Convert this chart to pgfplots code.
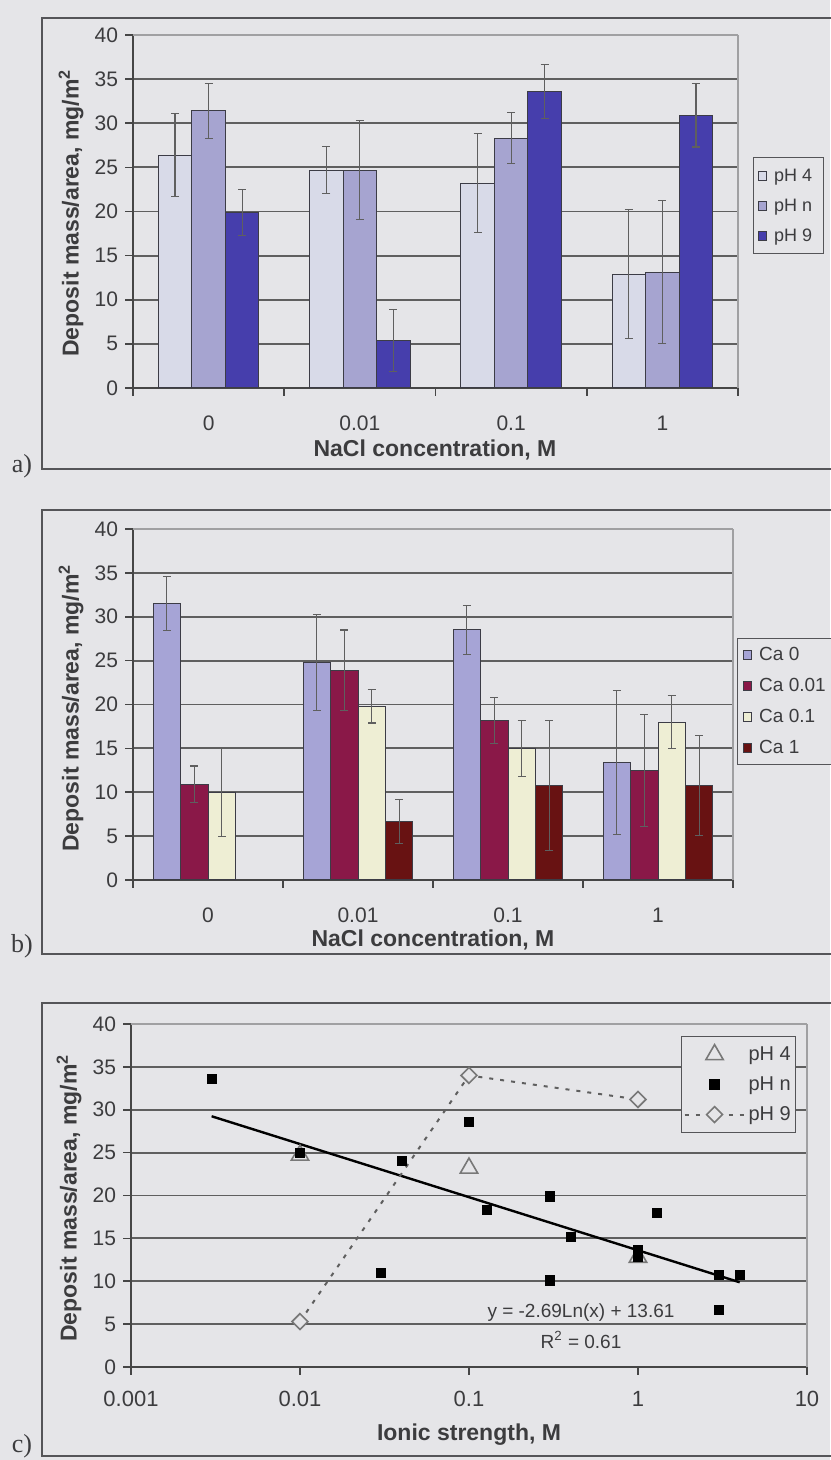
\documentclass[border=0pt]{standalone}
\usepackage{fontspec}
\setmainfont{Liberation Sans}
\newfontfamily\seriffont{Liberation Serif}
\usepackage{pgfplots}
\pgfplotsset{compat=1.18}
\definecolor{bg}{RGB}{229,229,232}
\definecolor{pHfour}{RGB}{216,218,232}
\definecolor{pHn}{RGB}{166,164,208}
\definecolor{pHnine}{RGB}{70,62,172}
\definecolor{CaA}{RGB}{166,164,214}
\definecolor{CaB}{RGB}{138,24,72}
\definecolor{CaC}{RGB}{238,238,212}
\definecolor{CaD}{RGB}{104,18,18}
\definecolor{gridc}{RGB}{95,95,95}
\definecolor{borderc}{RGB}{160,160,162}
\definecolor{framec}{RGB}{85,85,88}
\definecolor{axisc}{RGB}{70,70,70}
\definecolor{textc}{RGB}{60,60,62}
\definecolor{markgray}{RGB}{120,120,120}
\definecolor{barline}{RGB}{60,60,70}

\pgfplotsset{
  base/.style={
    scale only axis,
    anchor=south west,
    clip=false,
    axis background/.style={fill=bg},
    ymin=0, ymax=40,
    ytick={0,5,...,35},
    extra y ticks={40},
    extra y tick style={grid style={borderc, line width=0.6pt}},
    ymajorgrids,
    grid style={gridc, line width=0.9pt},
    axis lines*=left,
    axis line style={axisc, line width=0.8pt},
    tick style={axisc, line width=0.8pt},
    tick align=outside,
    major tick length=4pt,
    /pgf/number format/assume math mode=true,
    yticklabel style={font=\fontsize{10.5}{12}\selectfont, text=textc, anchor=east, xshift=0pt},
    legend cell align=left,
  },
  barbase/.style={
    base,
    ybar=0pt,
    xmin=-0.5, xmax=3.5,
    xtick={-0.5,0.5,1.5,2.5,3.5},
    xticklabels={,,,,},
    extra x ticks={0,1,2,3},
    extra x tick labels={0,0.01,0.1,1},
    extra x tick style={major tick length=0pt},
    xticklabel style={font=\fontsize{10.5}{12}\selectfont, text=textc, anchor=center, yshift=-17.5pt},
    error bars/y dir=both,
    error bars/y explicit,
    error bars/error bar style={gridc, line width=0.6pt},
    error bars/error mark options={gridc, line width=0.6pt, mark size=2pt, rotate=90},
    legend image code/.code={\draw[#1, line width=0.4pt] (0pt,-2.2pt) rectangle (4.4pt,2.2pt);},
  },
}

\begin{document}
\begin{tikzpicture}
\useasboundingbox (0pt,0pt) rectangle (415pt,730pt);
\fill[bg] (0pt,0pt) rectangle (415pt,730pt);
% panel frames
\draw[framec, line width=0.9pt] (422pt,721pt) -- (21pt,721pt) -- (21pt,495.5pt) -- (422pt,495.5pt);
\draw[framec, line width=0.9pt] (422pt,475pt) -- (21pt,475pt) -- (21pt,253pt) -- (422pt,253pt);
\draw[framec, line width=0.9pt] (422pt,228.5pt) -- (21pt,228.5pt) -- (21pt,2pt) -- (422pt,2pt);
\node[font=\seriffont\fontsize{13}{14}\selectfont, text=textc] at (11pt,497pt) {a)};
\node[font=\seriffont\fontsize{13}{14}\selectfont, text=textc] at (11pt,257pt) {b)};
\node[font=\seriffont\fontsize{13}{14}\selectfont, text=textc] at (11pt,7pt) {c)};

% ---------------- panel a ----------------
\begin{axis}[barbase, at={(66.5pt,536pt)}, width=302.5pt, height=176.5pt, bar width=0.222,
  legend style={at={(rel axis cs:1.0248,0.654)}, anchor=north west, draw=framec, fill=bg,
    line width=0.6pt, inner xsep=2pt, inner ysep=1.5pt,
    font=\fontsize{9}{10}\selectfont, text=textc,
    nodes={text height=7pt, text depth=1pt, inner sep=3.5pt}}]
\addplot[fill=pHfour, draw=barline, line width=0.5pt] coordinates {(0,26.4) +- (0,4.7) (1,24.7) +- (0,2.7) (2,23.2) +- (0,5.6) (3,12.9) +- (0,7.3)};
\addplot[fill=pHn, draw=barline, line width=0.5pt] coordinates {(0,31.4) +- (0,3.1) (1,24.7) +- (0,5.6) (2,28.3) +- (0,2.9) (3,13.1) +- (0,8.1)};
\addplot[fill=pHnine, draw=barline, line width=0.5pt] coordinates {(0,19.9) +- (0,2.6) (1,5.4) +- (0,3.5) (2,33.6) +- (0,3.1) (3,30.9) +- (0,3.6)};
\legend{pH 4, pH n, pH 9}
\draw[borderc, line width=0.6pt] (rel axis cs:1,0) -- (rel axis cs:1,1);
\end{axis}
\node[rotate=90, font=\bfseries\fontsize{11.5}{13}\selectfont, text=textc] at (35.5pt,623.5pt) {Deposit mass/area, mg/m\textsuperscript{2}};
\node[font=\bfseries\fontsize{11.5}{13}\selectfont, text=textc] at (217.5pt,505pt) {NaCl concentration, M};

% ---------------- panel b ----------------
\begin{axis}[barbase, at={(66.5pt,290pt)}, width=300pt, height=175.5pt, bar width=0.183,
  legend style={at={(rel axis cs:1.0067,0.6895)}, anchor=north west, draw=framec, fill=bg,
    line width=0.6pt, inner xsep=2.5pt, inner ysep=0.5pt,
    font=\fontsize{9.5}{11}\selectfont, text=textc,
    nodes={text height=7pt, text depth=1.5pt, inner sep=3.5pt}}]
\addplot[fill=CaA, draw=barline, line width=0.5pt] coordinates {(0,31.5) +- (0,3.1) (1,24.8) +- (0,5.5) (2,28.5) +- (0,2.8) (3,13.4) +- (0,8.2)};
\addplot[fill=CaB, draw=barline, line width=0.5pt] coordinates {(0,10.9) +- (0,2.1) (1,23.9) +- (0,4.6) (2,18.2) +- (0,2.6) (3,12.5) +- (0,6.4)};
\addplot[fill=CaC, draw=barline, line width=0.5pt] coordinates {(0,10.0) +- (0,5.0) (1,19.8) +- (0,1.9) (2,15.0) +- (0,3.2) (3,18.0) +- (0,3.0)};
\addplot[fill=CaD, draw=barline, line width=0.5pt] coordinates {(1,6.7) +- (0,2.5) (2,10.8) +- (0,7.4) (3,10.8) +- (0,5.7)};
\legend{Ca 0, Ca 0.01, Ca 0.1, Ca 1}
\draw[borderc, line width=0.6pt] (rel axis cs:1,0) -- (rel axis cs:1,1);
\end{axis}
\node[rotate=90, font=\bfseries\fontsize{11.5}{13}\selectfont, text=textc] at (35.5pt,376pt) {Deposit mass/area, mg/m\textsuperscript{2}};
\node[font=\bfseries\fontsize{11.5}{13}\selectfont, text=textc] at (216.5pt,260pt) {NaCl concentration, M};

% ---------------- panel c ----------------
\begin{axis}[base, at={(65.5pt,46.5pt)}, width=338pt, height=171.5pt,
  xmode=log, xmin=0.001, xmax=10,
  xtick={0.001,0.01,0.1,1,10}, xticklabels={0.001,0.01,0.1,1,10},
  xminorticks=false,
  xticklabel style={font=\fontsize{11}{12}\selectfont, text=textc, anchor=center, yshift=-12pt},
  legend image code/.code={\draw[mark repeat=2, mark phase=2, #1] plot coordinates {(0pt,0pt) (15pt,0pt) (30pt,0pt)};},
  legend style={at={(rel axis cs:0.8136,0.965)}, anchor=north west, draw=framec, fill=bg,
    line width=0.6pt, inner xsep=1pt, inner ysep=1.5pt,
    font=\fontsize{10}{11}\selectfont, text=textc,
    nodes={text height=7pt, text depth=1pt, inner ysep=3.5pt, inner xsep=1.5pt}}]
\addplot[black, line width=1.2pt, forget plot] coordinates {(0.003,29.24) (4,9.88)};
\addplot[only marks, mark=triangle*, mark size=5pt, mark options={draw=markgray, fill=bg, line width=0.8pt}] coordinates {(0.01,24.7) (0.1,23.2) (1,12.8)};
\addplot[only marks, mark=square*, mark size=2.3pt, mark options={draw=black, fill=black}] coordinates {
 (0.003,33.6) (0.01,25.0) (0.03,11.0) (0.04,24.0) (0.1,28.6) (0.127,18.3) (0.3,19.9) (0.3,10.1)
 (0.4,15.2) (1,13.6) (1,12.9) (1.3,18.0) (3,10.7) (4,10.7) (3,6.7)};
\addplot[color=gridc, line width=1pt, dash pattern=on 2pt off 3.5pt, mark=square*, mark size=2.8pt,
  mark options={solid, rotate=45, draw=markgray, fill=bg, line width=0.8pt}] coordinates {(0.01,5.3) (0.1,34.0) (1,31.2)};
\legend{pH 4, pH n, pH 9}
\draw[borderc, line width=0.6pt] (rel axis cs:1,0) -- (rel axis cs:1,1);
\node[font=\fontsize{9.5}{11}\selectfont, text=textc] at (axis cs:0.46,6.3) {y = -2.69Ln(x) + 13.61};
\node[font=\fontsize{9.5}{11}\selectfont, text=textc] at (axis cs:0.46,3.15) {R\textsuperscript{2} = 0.61};
\end{axis}
\node[rotate=90, font=\bfseries\fontsize{11.5}{13}\selectfont, text=textc] at (34.5pt,131pt) {Deposit mass/area, mg/m\textsuperscript{2}};
\node[font=\bfseries\fontsize{11.5}{13}\selectfont, text=textc] at (234.5pt,12.5pt) {Ionic strength, M};
\end{tikzpicture}
\end{document}
